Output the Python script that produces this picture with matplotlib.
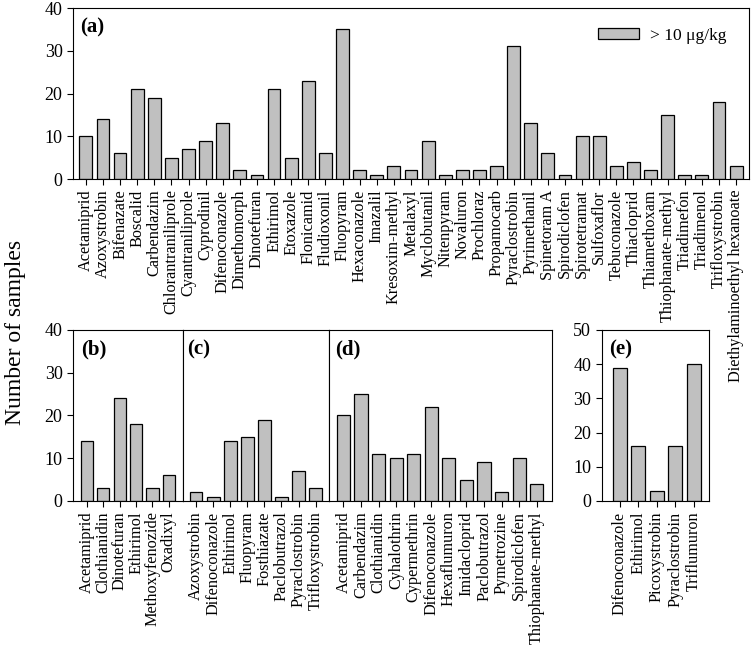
import matplotlib
matplotlib.use("Agg")
import matplotlib.pyplot as plt
from matplotlib.patches import Patch

plt.rcParams['font.family'] = ['Liberation Serif', 'DejaVu Serif']
plt.rcParams['mathtext.fontset'] = 'stix'

# data
names_a = ["Acetamiprid", "Azoxystrobin", "Bifenazate", "Boscalid", "Carbendazim",
           "Chlorantraniliprole", "Cyantraniliprole", "Cyprodinil", "Difenoconazole",
           "Dimethomorph", "Dinotefuran", "Ethirimol", "Etoxazole", "Flonicamid",
           "Fludioxonil", "Fluopyram", "Hexaconazole", "Imazalil", "Kresoxim-methyl",
           "Metalaxyl", "Myclobutanil", "Nitenpyram", "Novaluron", "Prochloraz",
           "Propamocarb", "Pyraclostrobin", "Pyrimethanil", "Spinetoram A",
           "Spirodiclofen", "Spirotetramat", "Sulfoxaflor", "Tebuconazole",
           "Thiacloprid", "Thiamethoxam", "Thiophanate-methyl", "Triadimefon",
           "Triadimenol", "Trifloxystrobin", "Diethylaminoethyl hexanoate"]
vals_a = [10, 14, 6, 21, 19, 5, 7, 9, 13, 2, 1, 21, 5, 23, 6, 35, 2, 1, 3,
          2, 9, 1, 2, 2, 3, 31, 13, 6, 1, 10, 10, 3, 4, 2, 15, 1, 1, 18, 3]

names_b = ["Acetamiprid", "Clothianidin", "Dinotefuran", "Ethirimol",
           "Methoxyfenozide", "Oxadixyl"]
vals_b = [14, 3, 24, 18, 3, 6]

names_c = ["Azoxystrobin", "Difenoconazole", "Ethirimol", "Fluopyram",
           "Fosthiazate", "Paclobutrazol", "Pyraclostrobin", "Trifloxystrobin"]
vals_c = [2, 1, 14, 15, 19, 1, 7, 3]

names_d = ["Acetamiprid", "Carbendazim", "Clothianidin", "Cyhalothrin",
           "Cypermethrin", "Difenoconazole", "Hexaflumuron", "Imidacloprid",
           "Paclobutrazol", "Pymetrozine", "Spirodiclofen", "Thiophanate-methyl"]
vals_d = [20, 25, 11, 10, 11, 22, 10, 5, 9, 2, 10, 4]

names_e = ["Difenoconazole", "Ethirimol", "Picoxystrobin", "Pyraclostrobin",
           "Triflumuron"]
vals_e = [39, 16, 3, 16, 40]

bar_color = "#c0c0c0"
fig = plt.figure(figsize=(7.51, 6.46), dpi=100)


def draw(ax, names, vals, label, lx, xlim, ylim, yticks=True):
    x = range(len(names))
    ax.bar(x, vals, width=0.75, color=bar_color, edgecolor="black", linewidth=0.9)
    ax.set_xticks(list(x))
    ax.set_xticklabels(names, rotation=90, fontsize=11.7)
    ax.set_xlim(*xlim)
    ax.set_ylim(*ylim)
    ax.tick_params(axis="both", direction="out", length=4, width=0.8)
    if yticks:
        ax.tick_params(axis="y", labelsize=13)
    else:
        ax.tick_params(axis="y", left=False, labelleft=False)
    for s in ax.spines.values():
        s.set_linewidth(0.8)
    ax.text(lx, 0.945, label, transform=ax.transAxes,
            fontsize=15, fontweight="bold", va="top", ha="left")


ax_a = fig.add_axes([0.0972, 0.7229, 0.9001, 0.2647])
draw(ax_a, names_a, vals_a, "(a)", 0.011, (-0.75, 38.75), (0, 40))
ax_a.set_yticks([0, 10, 20, 30, 40])
ax_a.legend(handles=[Patch(facecolor=bar_color, edgecolor="black", linewidth=0.9)],
            labels=["> 10 μg/kg"], loc="upper right", frameon=False,
            fontsize=12.6, handlelength=2.35, handleheight=0.6, handletextpad=0.6,
            bbox_to_anchor=(0.99, 0.975))

ax_b = fig.add_axes([0.0972, 0.2245, 0.1461, 0.2647])
draw(ax_b, names_b, vals_b, "(b)", 0.075, (-0.85, 5.85), (0, 40))
ax_b.set_yticks([0, 10, 20, 30, 40])

ax_c = fig.add_axes([0.2433, 0.2245, 0.1952, 0.2647])
draw(ax_c, names_c, vals_c, "(c)", 0.03, (-0.78, 7.8), (0, 40), yticks=False)

ax_d = fig.add_axes([0.4385, 0.2245, 0.2961, 0.2647])
draw(ax_d, names_d, vals_d, "(d)", 0.025, (-0.8, 11.85), (0, 40), yticks=False)

ax_e = fig.add_axes([0.801, 0.2245, 0.1433, 0.2647])
draw(ax_e, names_e, vals_e, "(e)", 0.075, (-0.98, 4.83), (0, 50))
ax_e.set_yticks([0, 10, 20, 30, 40, 50])

fig.text(0.02, 0.486, "Number of samples", rotation=90, fontsize=17,
         ha="center", va="center")

fig.savefig("out.png", dpi=100)
